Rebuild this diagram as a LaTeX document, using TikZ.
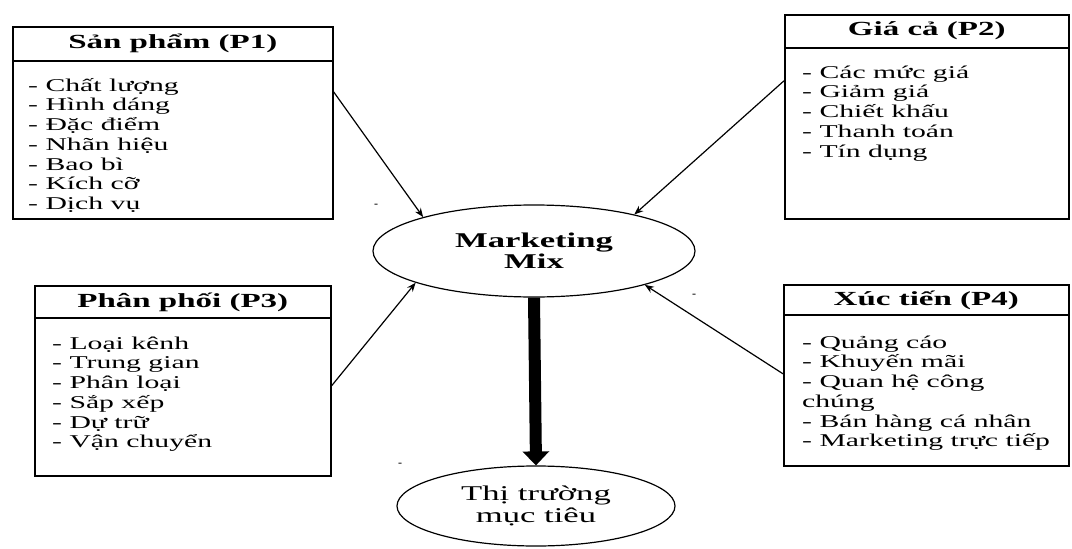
\documentclass[tikz,border=0pt]{standalone}
\usepackage{fontspec}
\setmainfont{Liberation Serif}
\newfontfamily\wideserif[FakeStretch=1.65]{Liberation Serif}
\usetikzlibrary{shapes.geometric,arrows.meta}
\begin{document}
\begin{tikzpicture}[x=1pt,y=-1pt,
 box/.style={draw, line width=1.6pt, rectangle, inner sep=0pt, anchor=north west},
 sep/.style={line width=1.6pt},
 head/.style={font=\wideserif\bfseries\fontsize{20}{22}\selectfont, inner sep=0pt},
 items/.style={font=\wideserif\fontsize{18}{19.7}\selectfont, align=left, anchor=north west, inner sep=0pt},
 oval/.style={draw, ellipse, line width=1.2pt, inner sep=0pt, align=center},
 arr/.style={line width=1.2pt, -{Stealth[length=9pt,width=7pt]}},
 big/.style={line width=12pt, -{Triangle[length=14pt,width=26pt]}},
 tick/.style={font=\fontsize{12}{12}\selectfont, inner sep=0pt}]
\useasboundingbox (0,0) rectangle (1072,549);

% boxes
\node[box, minimum width=320pt, minimum height=192pt] (p1) at (12,26) {};
\node[box, minimum width=284pt, minimum height=204pt] (p2) at (784,14) {};
\node[box, minimum width=296pt, minimum height=190pt] (p3) at (34,285) {};
\node[box, minimum width=285pt, minimum height=181pt] (p4) at (783,284) {};

\draw[sep] ([yshift=-35pt]p1.north west) -- ([yshift=-35pt]p1.north east);
\draw[sep] ([yshift=-34pt]p2.north west) -- ([yshift=-34pt]p2.north east);
\draw[sep] ([yshift=-33pt]p3.north west) -- ([yshift=-33pt]p3.north east);
\draw[sep] ([yshift=-31pt]p4.north west) -- ([yshift=-31pt]p4.north east);

\node[head] (p1h) at ([yshift=-17.5pt]p1.north) {Sản phẩm (P1)};
\node[head] (p2h) at ([yshift=-17pt]p2.north) {Giá cả (P2)};
\node[head] (p3h) at ([yshift=-17pt]p3.north) {Phân phối (P3)};
\node[head] (p4h) at ([yshift=-16pt]p4.north) {Xúc tiến (P4)};

\node[items] (p1i) at ([xshift=16pt,yshift=-47pt]p1.north west)
 {\rule{0pt}{18pt}- Chất lượng\\- Hình dáng\\- Đặc điểm\\- Nhãn hiệu\\- Bao bì\\- Kích cỡ\\- Dịch vụ};
\node[items] (p2i) at ([xshift=18pt,yshift=-46pt]p2.north west)
 {\rule{0pt}{18pt}- Các mức giá\\- Giảm giá\\- Chiết khấu\\- Thanh toán\\- Tín dụng};
\node[items] (p3i) at ([xshift=18pt,yshift=-46pt]p3.north west)
 {\rule{0pt}{18pt}- Loại kênh\\- Trung gian\\- Phân loại\\- Sắp xếp\\- Dự trữ\\- Vận chuyển};
\node[items] (p4i) at ([xshift=19pt,yshift=-46pt]p4.north west)
 {\rule{0pt}{18pt}- Quảng cáo\\- Khuyến mãi\\- Quan hệ công\\chúng\\- Bán hàng cá nhân\\- Marketing trực tiếp};

% ellipses
\node[oval, minimum width=322pt, minimum height=92pt,
      font=\wideserif\bfseries\fontsize{21}{21}\selectfont] (mm) at (534,251) {Marketing\\Mix};
\node[oval, minimum width=278pt, minimum height=80pt,
      font=\wideserif\fontsize{21}{22}\selectfont] (tt) at (536,506) {Thị trường\\mục tiêu};

% connectors
\draw[arr] ([yshift=31pt]p1.east) -- (mm.163);
\draw[arr] ([yshift=36pt]p2.west) -- (mm.20);
\draw[arr] ([yshift=-5pt]p3.east) -- (mm.195);
\draw[arr] ([yshift=1.5pt]p4.west) -- (mm.343);
\draw[big] (mm.south) -- (tt.north);

% stray ticks
\node[tick] (t1) at (376,206) {-};
\node[tick] (t2) at (694,296) {-};
\node[tick] (t3) at (400,465) {-};
\end{tikzpicture}
\end{document}
